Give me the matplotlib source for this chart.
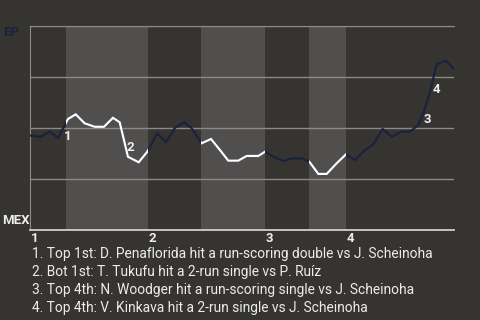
import matplotlib.pyplot as plt

# win probability timeline, EP at top (100) and MEX at bottom (0)
pa = [0, 1.16, 2.14, 3.04, 4.12, 4.96, 5.93, 7.02, 8.03, 9.0,
      9.73, 10.63, 11.79, 12.73, 13.81, 14.75, 15.73, 16.74, 17.54, 18.61,
      19.64, 20.61, 21.51, 22.6, 23.51, 24.77, 25.5, 26.4, 27.48, 28.39,
      29.48, 30.3, 31.28, 32.19, 33.27, 34.28, 35.26, 36.34, 37.25, 38.26,
      39.24, 40.33, 41.23, 42.13, 42.67, 43.4, 44.12, 45.13, 46.0]
wp = [46.3, 45.7, 48.2, 45.2, 54.4, 56.7, 52.3, 50.6, 50.6, 55.0,
      52.8, 35.9, 33.2, 38.4, 47.4, 43.0, 50.1, 52.8, 49.9, 42.5,
      44.6, 39.2, 34.0, 34.0, 36.3, 36.3, 38.4, 35.9, 33.8, 35.1,
      35.1, 33.5, 27.5, 27.5, 32.7, 37.1, 34.3, 39.2, 42.0, 49.5,
      45.7, 48.2, 48.2, 51.5, 57.2, 67.8, 81.2, 83.0, 78.9]

inning_starts = [0, 12.75, 25.5, 34.28]
inning_labels = ['1', '2', '3', '4']
bottom_halves = [(3.9, 12.75), (18.6, 25.5), (30.3, 34.28)]
x_end = 46

event_idx = [4, 11, 44, 46]
event_labels = ['1', '2', '3', '4']
event_offsets = [(0, -17), (2, 9), (4, -6), (0, -25)]

notes = [
    "1. Top 1st: D. Penaflorida hit a run-scoring double vs J. Scheinoha",
    "2. Bot 1st: T. Tukufu hit a 2-run single vs P. Ruíz",
    "3. Top 4th: N. Woodger hit a run-scoring single vs J. Scheinoha",
    "4. Top 4th: V. Kinkava hit a 2-run single vs J. Scheinoha",
]

bg = '#363430'
band = '#504f4d'
navy = '#19223f'
txt = '#ececec'
font = 'Roboto'

fig = plt.figure(figsize=(4.8, 3.2), dpi=100)
fig.patch.set_facecolor(bg)
ax = fig.add_axes([30 / 480, 90 / 320, 424 / 480, 204 / 320])
ax.set_facecolor(bg)

spans = []
for a, b in bottom_halves:
    spans.append(ax.axvspan(a, b, color=band, lw=0, zorder=0))

ax.set_xlim(0, x_end)
ax.set_ylim(0, 100)
ax.set_yticks([0, 25, 50, 75, 100])
ax.set_yticklabels([])
ax.set_xticks([])
ax.tick_params(length=0)
ax.grid(axis='y', color='#8a8a88', lw=1, zorder=1)
ax.set_axisbelow(True)

ax.spines['right'].set_visible(False)
ax.spines['left'].set_color('#8c8c8a')
ax.spines['top'].set_color('#8a8a88')
ax.spines['bottom'].set_color('#cfcfcf')
ax.spines['bottom'].set_linewidth(1.3)

# whole line in navy, white copies clipped to the bottom-half bands
ax.plot(pa, wp, color=navy, lw=1.6, zorder=3, solid_joinstyle='miter')
for sp in spans:
    ln, = ax.plot(pa, wp, color='white', lw=1.6, zorder=4, solid_joinstyle='miter')
    ln.set_clip_path(sp)

for i, lab, off in zip(event_idx, event_labels, event_offsets):
    ax.annotate(lab, (pa[i], wp[i]), xytext=off, textcoords='offset pixels',
                ha='center', va='center', color=txt, fontsize=9.5,
                fontweight='bold', family=font, zorder=5)

for x, lab in zip(inning_starts, inning_labels):
    ax.annotate(lab, (x, 0), xytext=(1, -8), textcoords='offset pixels',
                ha='left', va='center', color=txt, fontsize=9.5,
                fontweight='bold', family=font)

fig.text(3 / 480, 1 - 33 / 320, 'EP', color=navy, fontsize=9.5,
         fontweight='bold', family=font, va='center', ha='left')
fig.text(2 / 480, 1 - 220 / 320, 'MEX', color=txt, fontsize=9.5,
         fontweight='bold', family=font, va='center', ha='left')

for k, line in enumerate(notes):
    fig.text(32 / 480, 1 - (254 + 18 * k) / 320, line, color=txt,
             fontsize=9.9, family=font, va='center', ha='left')

fig.savefig('out.png', dpi=100, facecolor=bg)
